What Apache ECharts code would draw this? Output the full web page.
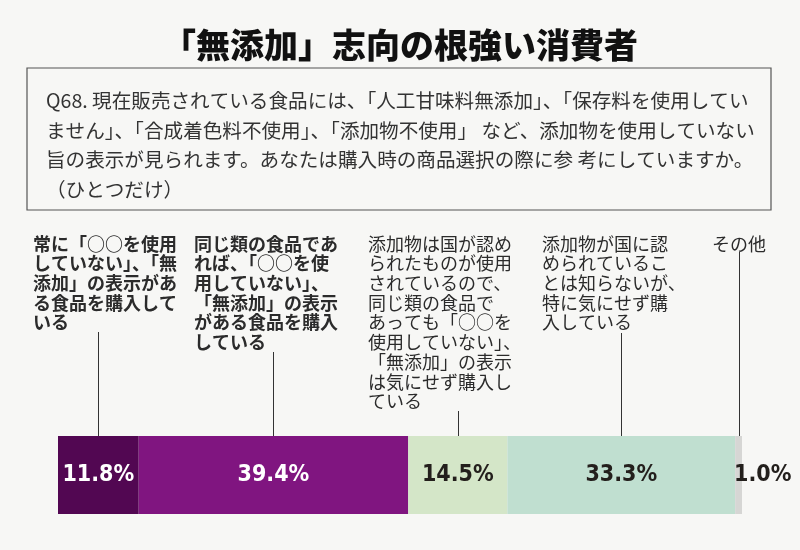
<!DOCTYPE html>
<html>
<head>
<meta charset="utf-8">
<script src="https://cdn.jsdelivr.net/npm/echarts@6/dist/echarts.min.js"></script>
<style>
  html, body { margin: 0; padding: 0; background: #f7f7f5; }
  #main { width: 800px; height: 550px; }
</style>
</head>
<body>
<div id="main"></div>
<script>
// 回答項目とその割合（%）
var answers = [
  '常に「○○を使用\nしていない」、「無\n添加」の表示があ\nる食品を購入して\nいる',
  '同じ類の食品であ\nれば、「○○を使\n用していない」、\n「無添加」の表示\nがある食品を購入\nしている',
  '添加物は国が認め\nられたものが使用\nされているので、\n同じ類の食品で\nあっても「○○を\n使用していない」、\n「無添加」の表示\nは気にせず購入し\nている',
  '添加物が国に認\nめられているこ\nとは知らないが、\n特に気にせず購\n入している',
  'その他'
];
var shares = [11.8, 39.4, 14.5, 33.3, 1.0];

var titleText = '「無添加」志向の根強い消費者';
var questionText = 'Q68. 現在販売されている食品には、「人工甘味料無添加」、「保存料を使用してい\n' +
  'ません」、「合成着色料不使用」、「添加物不使用」 など、添加物を使用していない\n' +
  '旨の表示が見られます。あなたは購入時の商品選択の際に参 考にしていますか。\n' +
  '（ひとつだけ）';

var barColors = ['#520752', '#801580', '#d4e6c8', '#c0dfd0', '#d6d6d4'];
var labelColors = ['#ffffff', '#ffffff', '#231f1c', '#231f1c', '#231f1c'];
var textX = [33, 194, 368, 542, 712];       // 注記の左端
var textBold = [true, true, false, false, false];
var lineTop = [332, 352, 411, 333, 252];    // 引き出し線の上端

var cjk = '"Noto Sans CJK JP", "Noto Sans", sans-serif';
var narrow = '"Liberation Sans Narrow", "DejaVu Sans Condensed", "Roboto Condensed", sans-serif';

var chart = echarts.init(document.getElementById('main'));

var series = shares.map(function (v, i) {
  return {
    type: 'bar',
    stack: 'total',
    barWidth: 78,
    data: [v],
    itemStyle: { color: barColors[i] },
    label: {
      show: true,
      position: i === 4 ? 'right' : 'inside',
      distance: i === 4 ? -8 : 5,
      formatter: function (p) { return p.value.toFixed(1) + '%'; },
      color: labelColors[i],
      fontFamily: narrow,
      fontWeight: 'bold',
      fontSize: 23
    },
    silent: true
  };
});

var option = {
  backgroundColor: '#f7f7f5',
  animation: false,
  title: {
    text: titleText,
    left: 'center',
    top: 23,
    textStyle: { fontFamily: cjk, fontSize: 34, fontWeight: 900, color: '#111' }
  },
  grid: { left: 58, right: 58, top: 436, height: 78 },
  xAxis: { type: 'value', min: 0, max: 100, show: false },
  yAxis: { type: 'category', data: ['回答'], show: false },
  series: series
};

chart.setOption(option);

// 注記・引き出し線・設問枠
var graphics = [
  {
    type: 'rect',
    shape: { x: 27, y: 68, width: 744, height: 142 },
    style: { fill: 'none', stroke: '#555', lineWidth: 1.2 }
  },
  {
    type: 'text',
    style: {
      text: questionText, x: 46, y: 86,
      fontFamily: cjk, fontSize: 19.6, lineHeight: 29.5,
      fill: '#333', verticalAlign: 'top'
    }
  }
];

var acc = 0;
shares.forEach(function (v, i) {
  var mid = acc + v / 2;
  acc += v;
  var pt = chart.convertToPixel({ gridIndex: 0 }, [mid, 0]);
  var barTop = pt[1] - 39;
  graphics.push({
    type: 'text',
    style: {
      text: answers[i], x: textX[i], y: 234,
      fontFamily: cjk, fontSize: 18, lineHeight: 19.7,
      fontWeight: textBold[i] ? 'bold' : 'normal',
      fill: '#2b2b2b', verticalAlign: 'top'
    }
  });
  graphics.push({
    type: 'line',
    shape: { x1: Math.round(pt[0]) + 0.5, y1: lineTop[i], x2: Math.round(pt[0]) + 0.5, y2: barTop },
    style: { stroke: '#333', lineWidth: 1 }
  });
});

chart.setOption({ graphic: graphics });
</script>
</body>
</html>
